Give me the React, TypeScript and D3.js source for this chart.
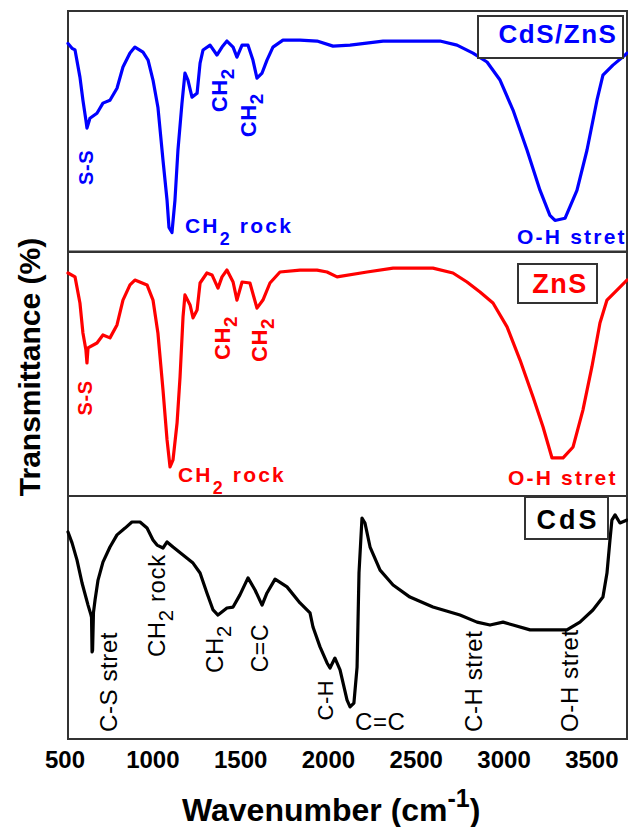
import React from 'react';
import * as d3 from 'd3';

// ---------- data ----------
const TICK_VALUES = [500, 1000, 1500, 2000, 2500, 3000, 3500];
const X_DOMAIN: [number, number] = [517, 3700];

// [wavenumber (cm-1), transmittance (arb. %)]
const CDS_ZNS: [number, number][] = [
  [517, 86.5], [540, 84.5], [557, 83.8], [585, 72.5], [602, 62.9], [619, 54.6], [625, 51.3], [642, 55.4],
  [682, 57.5], [716, 61.7], [756, 62.9], [796, 67.9], [830, 76.7], [870, 82.5], [898, 85.0], [944, 82.9],
  [973, 79.6], [1001, 71.3], [1029, 60.0], [1058, 37.9], [1081, 21.3], [1092, 10.0], [1109, 7.9],
  [1126, 21.3], [1143, 42.1], [1166, 61.7], [1183, 74.2], [1200, 71.3], [1223, 64.2], [1252, 65.8],
  [1269, 78.3], [1286, 83.8], [1326, 85.8], [1365, 81.7], [1394, 85.0], [1422, 87.5], [1457, 85.0],
  [1479, 80.8], [1508, 85.8], [1542, 85.8], [1570, 79.6], [1593, 72.1], [1622, 74.2], [1650, 79.6],
  [1684, 85.0], [1741, 87.9], [1838, 87.9], [1935, 87.5], [2026, 85.4], [2123, 85.8], [2311, 87.5],
  [2635, 87.5], [2732, 85.8], [2823, 82.5], [2903, 78.8], [2977, 71.3], [3051, 58.8], [3131, 42.1],
  [3205, 25.4], [3261, 15.0], [3290, 12.9], [3347, 13.8], [3415, 25.4], [3472, 42.1], [3529, 62.9],
  [3563, 73.3], [3620, 77.5], [3689, 81.7], [3700, 82.5],
];

const ZNS: [number, number][] = [
  [517, 91.4], [557, 89.8], [585, 79.1], [602, 66.8], [619, 59.8], [625, 54.5], [631, 60.7], [682, 62.7],
  [716, 66.0], [756, 64.8], [796, 70.1], [830, 80.3], [870, 86.5], [898, 88.5], [967, 86.5], [1001, 80.3],
  [1029, 66.8], [1058, 43.4], [1081, 23.0], [1098, 11.9], [1115, 14.8], [1138, 29.9], [1155, 48.8],
  [1172, 73.4], [1183, 82.4], [1212, 78.3], [1229, 73.0], [1252, 76.2], [1269, 87.3], [1308, 91.4],
  [1337, 90.6], [1371, 85.2], [1394, 89.8], [1422, 92.6], [1457, 87.7], [1479, 80.3], [1508, 87.7],
  [1553, 87.3], [1593, 77.0], [1627, 80.3], [1667, 87.3], [1724, 91.8], [1838, 92.6], [1935, 92.6],
  [1992, 91.8], [2049, 89.8], [2220, 91.8], [2368, 93.4], [2595, 93.4], [2709, 91.4], [2789, 87.7],
  [2863, 83.6], [2937, 79.1], [3017, 69.3], [3091, 55.7], [3165, 40.6], [3222, 28.3], [3273, 15.6],
  [3336, 15.6], [3393, 20.1], [3449, 35.2], [3500, 52.9], [3546, 70.9], [3586, 80.3], [3643, 84.4],
  [3700, 88.5],
];

const CDS: [number, number][] = [
  [517, 85.2], [540, 80.7], [568, 73.7], [597, 64.2], [631, 55.1], [648, 51.0], [651, 50.0], [654, 35.8],
  [657, 36.5], [662, 52.0], [671, 57.2], [688, 65.4], [716, 72.8], [756, 79.0], [796, 84.0], [842, 86.8],
  [881, 89.3], [927, 89.3], [967, 86.8], [1001, 81.9], [1024, 79.8], [1058, 78.6], [1081, 81.1],
  [1115, 79.0], [1172, 75.7], [1229, 72.4], [1269, 68.3], [1308, 60.1], [1343, 53.1], [1371, 51.0],
  [1422, 53.9], [1457, 54.3], [1496, 59.3], [1542, 66.3], [1582, 61.3], [1622, 55.1], [1650, 60.1],
  [1696, 65.8], [1764, 62.6], [1838, 56.0], [1895, 51.9], [1912, 46.1], [1952, 37.9], [1992, 31.3],
  [2009, 29.2], [2037, 33.3], [2066, 28.4], [2106, 16.0], [2123, 13.2], [2145, 14.8], [2163, 29.6],
  [2174, 68.3], [2191, 90.9], [2208, 88.9], [2237, 79.0], [2294, 69.5], [2368, 63.4], [2464, 58.4],
  [2595, 54.3], [2749, 51.0], [2846, 48.1], [2920, 46.9], [2994, 48.1], [3051, 46.9], [3148, 44.9],
  [3358, 44.9], [3432, 48.1], [3506, 53.1], [3563, 58.4], [3586, 68.3], [3603, 81.9], [3614, 90.1],
  [3632, 92.2], [3660, 88.9], [3700, 90.1],
];

type Label = {
  text: string; sub?: string; tail?: string;
  v: number; t: number; rotate: boolean; anchor: 'start' | 'middle';
  size: number; bold: boolean;
};

const CDS_ZNS_LABELS: Label[] = [
  { text: 'S-S', v: 659, t: 35, rotate: true, anchor: 'middle', size: 20, bold: true },
  { text: 'CH', sub: '2', v: 1422, t: 57.9, rotate: true, anchor: 'start', size: 22, bold: true },
  { text: 'CH', sub: '2', v: 1587, t: 47.5, rotate: true, anchor: 'start', size: 22, bold: true },
  { text: 'CH', sub: '2', tail: ' rock', v: 1183, t: 7.5, rotate: false, anchor: 'start', size: 21, bold: true },
  { text: 'O-H stret', v: 3074, t: 3.3, rotate: false, anchor: 'start', size: 21, bold: true },
];

const ZNS_LABELS: Label[] = [
  { text: 'S-S', v: 654, t: 40.2, rotate: true, anchor: 'middle', size: 20, bold: true },
  { text: 'CH', sub: '2', v: 1439, t: 55.7, rotate: true, anchor: 'start', size: 22, bold: true },
  { text: 'CH', sub: '2', v: 1650, t: 54.9, rotate: true, anchor: 'start', size: 22, bold: true },
  { text: 'CH', sub: '2', tail: ' rock', v: 1143, t: 5.7, rotate: false, anchor: 'start', size: 21, bold: true },
  { text: 'O-H stret', v: 3022, t: 4.5, rotate: false, anchor: 'start', size: 21, bold: true },
];

const CDS_LABELS: Label[] = [
  { text: 'C-S stret', v: 796, t: 2.9, rotate: true, anchor: 'start', size: 24, bold: false },
  { text: 'CH', sub: '2', tail: ' rock', v: 1069, t: 33.7, rotate: true, anchor: 'start', size: 24, bold: false },
  { text: 'CH', sub: '2', v: 1400, t: 27.2, rotate: true, anchor: 'start', size: 24, bold: false },
  { text: 'C=C', v: 1656, t: 37.4, rotate: true, anchor: 'middle', size: 23, bold: false },
  { text: 'C-H', v: 2026, t: 16.0, rotate: true, anchor: 'middle', size: 22, bold: false },
  { text: 'C=C', v: 2151, t: 3.7, rotate: false, anchor: 'start', size: 24, bold: false },
  { text: 'C-H stret', v: 2874, t: 2.9, rotate: true, anchor: 'start', size: 24, bold: false },
  { text: 'O-H stret', v: 3421, t: 2.9, rotate: true, anchor: 'start', size: 24, bold: false },
];

const SERIES_NAMES = ['CdS/ZnS', 'ZnS', 'CdS'];
const SERIES_COLORS = ['#0000ff', '#ff0000', '#000000'];

// ---------- layout ----------
const W = 628;
const H = 827;
const LEFT = 68;
const RIGHT = 627;
const PANEL_TOPS = [11, 252, 496];
const PANEL_BOTTOMS = [251.5, 496, 739];
const LEGEND_BOXES = [
  { x0: 478, x1: 623, y0: 16, y1: 58, cx: 558, base: 43, size: 26, ls: 1.5 },
  { x0: 518, x1: 597, y0: 264, y1: 303, cx: 560, base: 293, size: 27, ls: 1.5 },
  { x0: 525, x1: 608, y0: 497, y1: 539, cx: 568, base: 529, size: 27, ls: 3 },
];
const FONT = '"Liberation Sans", Arial, Helvetica, sans-serif';
const FRAME = '#333333';

export default function App() {
  const x = d3.scaleLinear().domain(X_DOMAIN).range([LEFT, RIGHT]);
  const datasets = [CDS_ZNS, ZNS, CDS];
  const labelSets = [CDS_ZNS_LABELS, ZNS_LABELS, CDS_LABELS];

  return (
    <svg width={W} height={H} style={{ position: 'absolute', left: 0, top: 0, background: '#fff' }}
      fontFamily={FONT}>
      <rect x={0} y={0} width={W} height={H} fill="#fff" />
      {datasets.map((data, i) => {
        const y = d3.scaleLinear().domain([0, 100]).range([PANEL_BOTTOMS[i], PANEL_TOPS[i]]);
        const line = d3.line<[number, number]>().x(d => x(d[0])).y(d => y(d[1]));
        const color = SERIES_COLORS[i];
        const box = LEGEND_BOXES[i];
        return (
          <g key={i}>
            <rect x={LEFT} y={PANEL_TOPS[i]} width={RIGHT - LEFT} height={PANEL_BOTTOMS[i] - PANEL_TOPS[i]}
              fill="none" stroke={FRAME} strokeWidth={2} />
            <path d={line(data) || ''} fill="none" stroke={color} strokeWidth={3.2}
              strokeLinejoin="round" strokeLinecap="round" />
            {labelSets[i].map((l, j) => {
              const px = x(l.v);
              const py = y(l.t);
              const shift = l.rotate ? l.size * 0.32 : l.size * 0.55;
              return (
                <text key={j} transform={`translate(${px},${py})${l.rotate ? ' rotate(-90)' : ''}`}
                  textAnchor={l.anchor} fontSize={l.size} fontWeight={l.bold ? 'bold' : 'normal'}
                  fill={color} letterSpacing={l.bold && !l.rotate ? 2.2 : 0.6}>
                  {l.text}
                  {l.sub && <tspan dy={shift} fontSize={l.size * 0.85}>{l.sub}</tspan>}
                  {l.tail && <tspan dy={-shift} fontSize={l.size}>{l.tail}</tspan>}
                </text>
              );
            })}
            <rect x={box.x0} y={box.y0} width={box.x1 - box.x0} height={box.y1 - box.y0}
              fill="#fff" stroke={FRAME} strokeWidth={2} />
            <text x={box.cx} y={box.base} textAnchor="middle" fontSize={box.size} fontWeight="bold"
              fill={color} letterSpacing={box.ls}>{SERIES_NAMES[i]}</text>
          </g>
        );
      })}
      {TICK_VALUES.map(v => (
        <text key={v} x={x(v)} y={768} textAnchor="middle" fontSize={24} fontWeight="bold" fill="#000">{v}</text>
      ))}
      <text x={182} y={821} fontSize={32} fontWeight="bold" fill="#000">
        Wavenumber (cm<tspan dy={-14} fontSize={25}>-1</tspan><tspan dy={14} fontSize={32}>)</tspan>
      </text>
      <text transform={`translate(40,367) rotate(-90)`} textAnchor="middle" fontSize={30} fontWeight="bold"
        fill="#000">Transmittance (%)</text>
    </svg>
  );
}
